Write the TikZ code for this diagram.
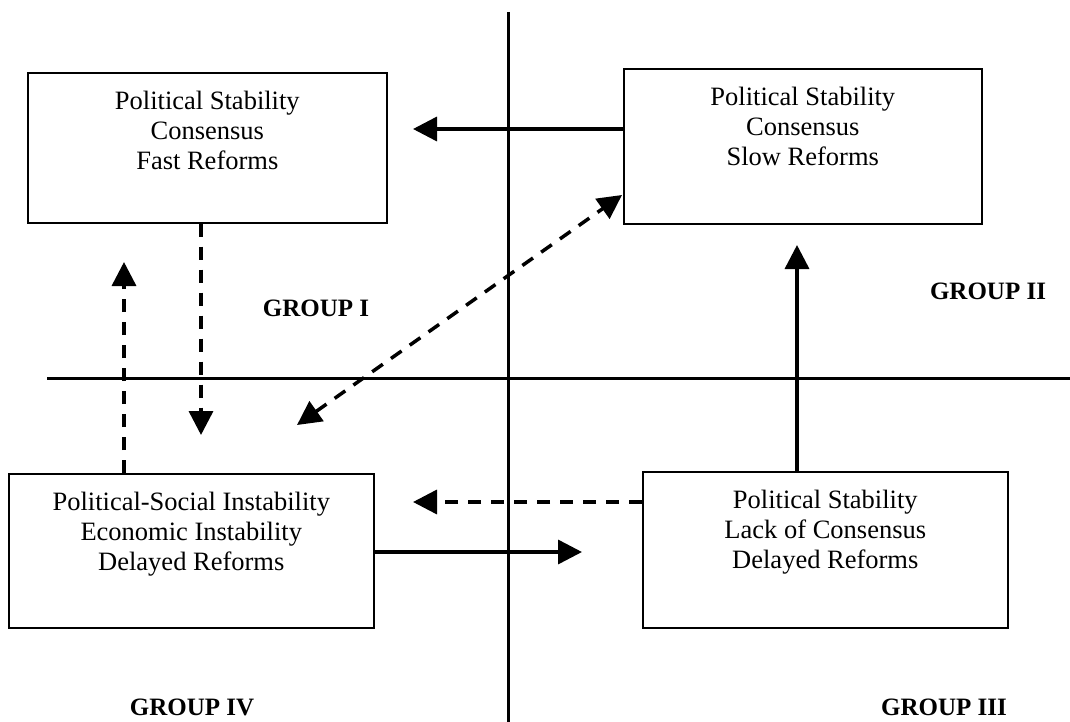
\documentclass[tikz,border=0pt]{standalone}
\usepackage{fontspec}
\setmainfont{Liberation Serif}
\usetikzlibrary{arrows.meta,calc}
\begin{document}
\begin{tikzpicture}[x=1pt,y=-1pt,
  box/.style={draw,line width=1.6pt,inner sep=0pt,anchor=north west},
  boxtext/.style={anchor=north,align=center,inner sep=0pt,font=\fontsize{26.5}{30}\selectfont},
  axis/.style={line width=3pt},
  conn/.style={line width=3.5pt,-{Triangle[length=24pt,width=24pt]}},
  dconn/.style={conn,dash pattern=on 13pt off 10pt},
  grp/.style={font=\fontsize{25}{28}\selectfont\bfseries,inner sep=0pt}]
\useasboundingbox (0,0) rectangle (1070,722);
% axes
\coordinate (vt) at (508,12);
\coordinate (vb) at (508,722);
\coordinate (hl) at (47,378);
\coordinate (hr) at (1070,378);
\draw[axis] (vt) -- (vb);
\draw[axis] (hl) -- (hr);
% boxes
\node[box,minimum width=359pt,minimum height=150pt] (b1) at (27,72) {};
\node[box,minimum width=358pt,minimum height=155pt] (b2) at (623,68) {};
\node[box,minimum width=365pt,minimum height=154pt] (b3) at (8,473) {};
\node[box,minimum width=365pt,minimum height=156pt] (b4) at (642,471) {};
\node[boxtext] (t1) at ($(b1.north)+(0,19)$) {Political Stability\\Consensus\\Fast Reforms};
\node[boxtext] (t2) at ($(b2.north)+(0,19)$) {Political Stability\\Consensus\\Slow Reforms};
\node[boxtext] (t3) at ($(b3.north)+(0,19)$) {Political-Social Instability\\Economic Instability\\Delayed Reforms};
\node[boxtext] (t4) at ($(b4.north)+(0,19)$) {Political Stability\\Lack of Consensus\\Delayed Reforms};
% group labels
\node[grp] (g1) at (316,308) {GROUP I};
\node[grp] (g2) at (988,291) {GROUP II};
\node[grp] (g4) at (192,707) {GROUP IV};
\node[grp] (g3) at (944,707) {GROUP III};
% connector end points
\coordinate (e1) at (413,129);
\coordinate (e2) at (201,435);
\coordinate (e3) at (124,262);
\coordinate (e4a) at (297,425);
\coordinate (e4b) at (622,195);
\coordinate (e5) at (797,245);
\coordinate (e6) at (413,502);
\coordinate (e7) at (582,552);
% connectors
\draw[conn] (b2.west |- e1) -- (e1);
\draw[dconn] (b1.south -| e2) -- (e2);
\draw[dconn] (b3.north -| e3) -- (e3);
\draw[dconn,{Triangle[length=24pt,width=24pt]}-{Triangle[length=24pt,width=24pt]}] (e4a) -- (e4b);
\draw[conn] (b4.north -| e5) -- (e5);
\draw[dconn] (b4.west |- e6) -- (e6);
\draw[conn] (b3.east |- e7) -- (e7);
\end{tikzpicture}
\end{document}
